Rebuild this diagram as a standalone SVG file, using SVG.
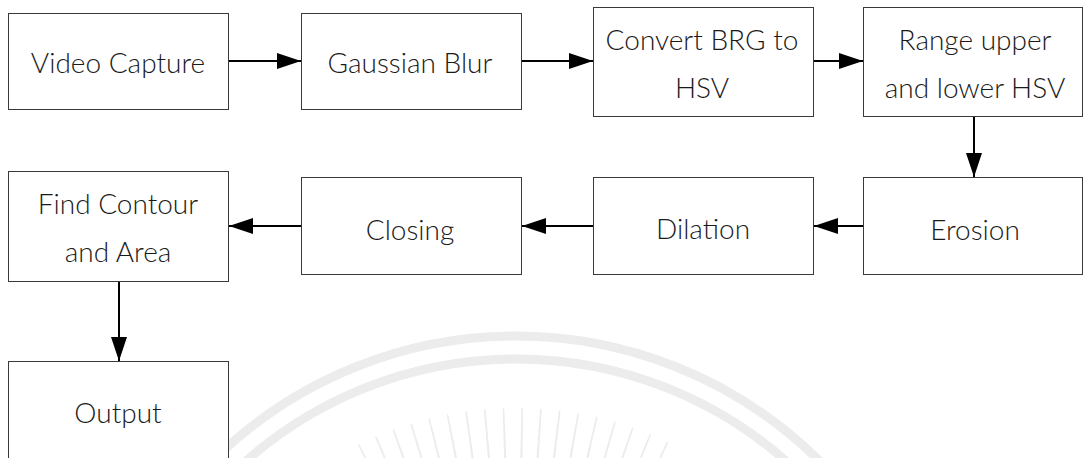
<svg xmlns="http://www.w3.org/2000/svg" width="1084" height="458" viewBox="0 0 1084 458">
  <style>
    .box { fill: #ffffff; stroke: #3a3a3a; stroke-width: 1; }
    .lbl { font-family: Lato, "Open Sans", "Liberation Sans", sans-serif; font-weight: 300; font-size: 28px; fill: #1a1a1a; text-anchor: middle; }
    .link { fill: none; stroke: #000000; stroke-width: 2; marker-end: url(#head); }
    .seal { fill: none; stroke: #ececec; stroke-width: 9; }
    .ray { fill: #ececec; }
  </style>
  <defs>
    <marker id="head" markerUnits="userSpaceOnUse" markerWidth="24" markerHeight="16" refX="24" refY="8" orient="auto">
      <path d="M0,0 L24,8 L0,16 Z" fill="#000000"/>
    </marker>
    <path id="spike" d="M-1.5,0 L1.5,0 L0.8,-120 L0,-122 L-0.8,-120 Z"/>
  </defs>

  <!-- faint seal in the background -->
  <g id="seal">
    <circle class="seal" cx="516" cy="767" r="431"/>
    <circle class="seal" cx="516" cy="767" r="408"/>
    <g transform="translate(516,767)">
      <g class="ray">
        <use href="#spike" transform="rotate(-26) translate(0,-238)"/>
        <use href="#spike" transform="rotate(-23) translate(0,-238)"/>
        <use href="#spike" transform="rotate(-20) translate(0,-238)"/>
        <use href="#spike" transform="rotate(-17) translate(0,-238)"/>
        <use href="#spike" transform="rotate(-14) translate(0,-238)"/>
        <use href="#spike" transform="rotate(-11) translate(0,-238)"/>
        <use href="#spike" transform="rotate(-8) translate(0,-238)"/>
        <use href="#spike" transform="rotate(-5) translate(0,-238)"/>
        <use href="#spike" transform="rotate(-2) translate(0,-238)"/>
        <use href="#spike" transform="rotate(1) translate(0,-238)"/>
        <use href="#spike" transform="rotate(4) translate(0,-238)"/>
        <use href="#spike" transform="rotate(7) translate(0,-238)"/>
        <use href="#spike" transform="rotate(10) translate(0,-238)"/>
        <use href="#spike" transform="rotate(13) translate(0,-238)"/>
        <use href="#spike" transform="rotate(16) translate(0,-238)"/>
        <use href="#spike" transform="rotate(19) translate(0,-238)"/>
        <use href="#spike" transform="rotate(22) translate(0,-238)"/>
        <use href="#spike" transform="rotate(25) translate(0,-238)"/>
      </g>
    </g>
  </g>

  <!-- connectors -->
  <g id="connectors">
    <path class="link" d="M229,61 H301"/>
    <path class="link" d="M522,61 H593"/>
    <path class="link" d="M814,61 H863"/>
    <path class="link" d="M974,117 V177"/>
    <path class="link" d="M863,226 H814"/>
    <path class="link" d="M593,226 H522"/>
    <path class="link" d="M301,226 H229"/>
    <path class="link" d="M119,282 V361"/>
  </g>

  <!-- processing steps -->
  <g id="video-capture">
    <rect class="box" x="8.5" y="13.5" width="220" height="96"/>
    <text class="lbl" x="118" y="73">Video Capture</text>
  </g>
  <g id="gaussian-blur">
    <rect class="box" x="301.5" y="13.5" width="220" height="96"/>
    <text class="lbl" x="410" y="73">Gaussian Blur</text>
  </g>
  <g id="convert-hsv">
    <rect class="box" x="593.5" y="7.5" width="220" height="109"/>
    <text class="lbl" x="702" y="50">Convert BRG to</text>
    <text class="lbl" x="702" y="98">HSV</text>
  </g>
  <g id="range-hsv">
    <rect class="box" x="863.5" y="7.5" width="219" height="109"/>
    <text class="lbl" x="975" y="50">Range upper</text>
    <text class="lbl" x="975" y="98">and lower HSV</text>
  </g>
  <g id="erosion">
    <rect class="box" x="863.5" y="177.5" width="219" height="97"/>
    <text class="lbl" x="975" y="240">Erosion</text>
  </g>
  <g id="dilation">
    <rect class="box" x="593.5" y="177.5" width="220" height="97"/>
    <text class="lbl" x="703" y="239">Dilation</text>
  </g>
  <g id="closing">
    <rect class="box" x="301.5" y="177.5" width="220" height="97"/>
    <text class="lbl" x="410" y="240">Closing</text>
  </g>
  <g id="find-contour">
    <rect class="box" x="8.5" y="171.5" width="220" height="110"/>
    <text class="lbl" x="118" y="214">Find Contour</text>
    <text class="lbl" x="118" y="262">and Area</text>
  </g>
  <g id="output">
    <rect class="box" x="8.5" y="361.5" width="220" height="110"/>
    <text class="lbl" x="118" y="423">Output</text>
  </g>
</svg>
